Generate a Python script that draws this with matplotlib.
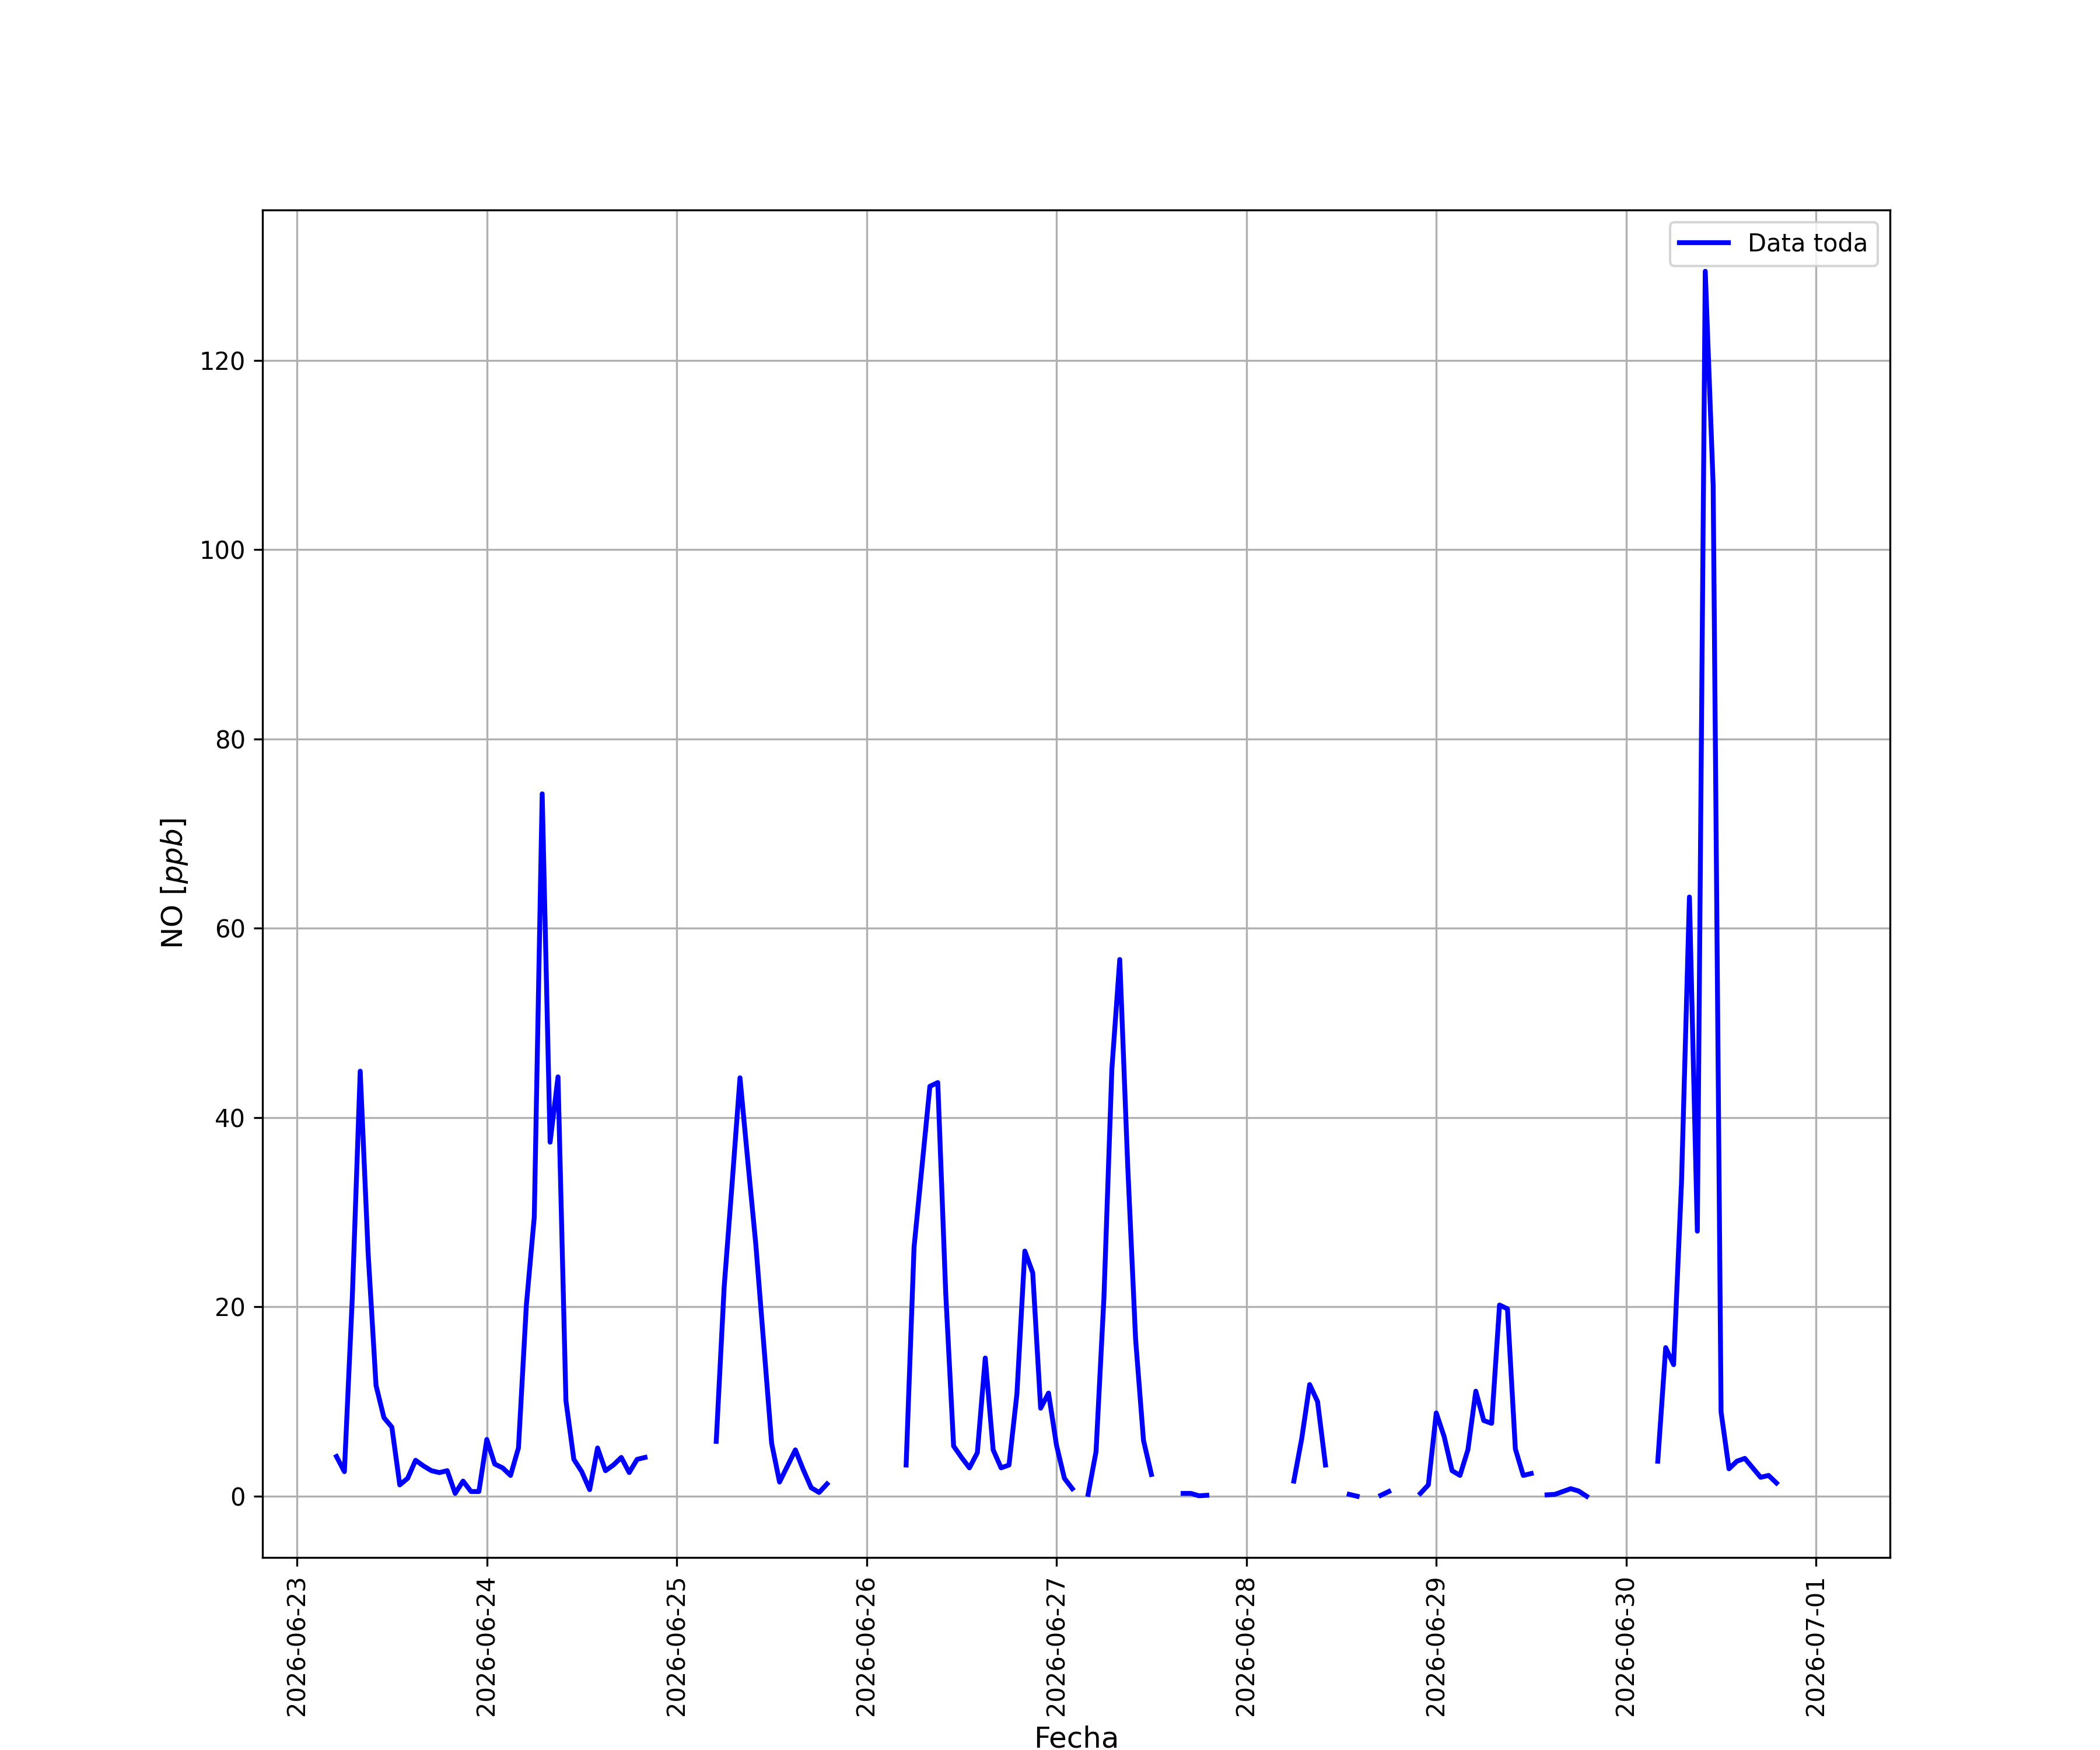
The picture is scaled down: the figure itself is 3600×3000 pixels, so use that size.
import numpy as np
import pandas as pd
import matplotlib
matplotlib.use("Agg")
import matplotlib.pyplot as plt

nan = np.nan

# NO hourly values [ppb], one list per day (nan = no data)
no_0623 = [4.2, 2.6, 21.0, 44.9, 25.7, 11.7, 8.3, 7.3, 1.2, 1.9, 3.8, 3.2,
           2.7, 2.5, 2.7, 0.3, 1.6, 0.5, 0.5]  # starts at 05:00
no_0624 = [6.0, 3.4, 3.0, 2.2, 5.1, 20.2, 29.5, 74.2, 37.4, 44.3, 10.1, 3.9,
           2.6, 0.7, 5.1, 2.7, 3.3, 4.1, 2.5, 3.9, 4.1, nan, nan, nan]
no_0625 = [nan, nan, nan, nan, nan, 5.8, 22.1, 33.0, 44.2, 35.3, 26.6, 16.1,
           5.6, 1.5, 3.2, 4.9, 2.8, 0.9, 0.4, 1.3, nan, nan, nan, nan]
no_0626 = [nan, nan, nan, nan, nan, 3.3, 26.3, 34.8, 43.3, 43.7, 21.5, 5.3,
           4.1, 3.0, 4.6, 14.6, 4.9, 3.0, 3.3, 10.8, 25.9, 23.6, 9.3, 10.9]
no_0627 = [5.4, 1.9, 0.8, nan, 0.2, 4.7, 21.0, 45.1, 56.7, 35.0, 16.6, 5.9,
           2.3, nan, nan, nan, 0.3, 0.3, 0.05, 0.1, nan, nan, nan, nan]
no_0628 = [nan, nan, nan, nan, nan, nan, 1.6, 6.1, 11.8, 10.0, 3.3, nan,
           nan, 0.2, 0.0, nan, nan, 0.1, 0.5, nan, nan, nan, 0.3, 1.2]
no_0629 = [8.8, 6.3, 2.7, 2.2, 4.9, 11.1, 8.0, 7.7, 20.2, 19.8, 5.0, 2.2,
           2.4, nan, 0.15, 0.2, 0.5, 0.8, 0.55, 0.0, nan, nan, nan, nan]
no_0630 = [nan, nan, nan, nan, 3.7, 15.7, 13.9, 33.2, 63.3, 28.0, 129.4, 106.8,
           8.9, 2.9, 3.7, 4.0, 3.0, 2.0, 2.2, 1.4, nan, nan, nan, nan]
no_0701 = [nan]  # 00:00, no data

values = (no_0623 + no_0624 + no_0625 + no_0626 + no_0627 + no_0628
          + no_0629 + no_0630 + no_0701)
fechas = pd.date_range("2026-06-23 05:00", periods=len(values), freq="h")

plt.figure(figsize=(12, 10), dpi=300)
plt.plot(fechas, values, color='blue', linewidth=2, label='Data toda')
span = fechas[-1] - fechas[0]
plt.xlim(fechas[0] - 0.05 * span, fechas[-1] + 0.05 * span)
plt.xlabel('Fecha', fontsize=12)
plt.ylabel('NO [$ppb$]', fontsize=12)
plt.xticks(rotation=90)
plt.grid(True)
plt.legend(loc='upper right')
plt.savefig('out.png', dpi=300)
plt.close()
